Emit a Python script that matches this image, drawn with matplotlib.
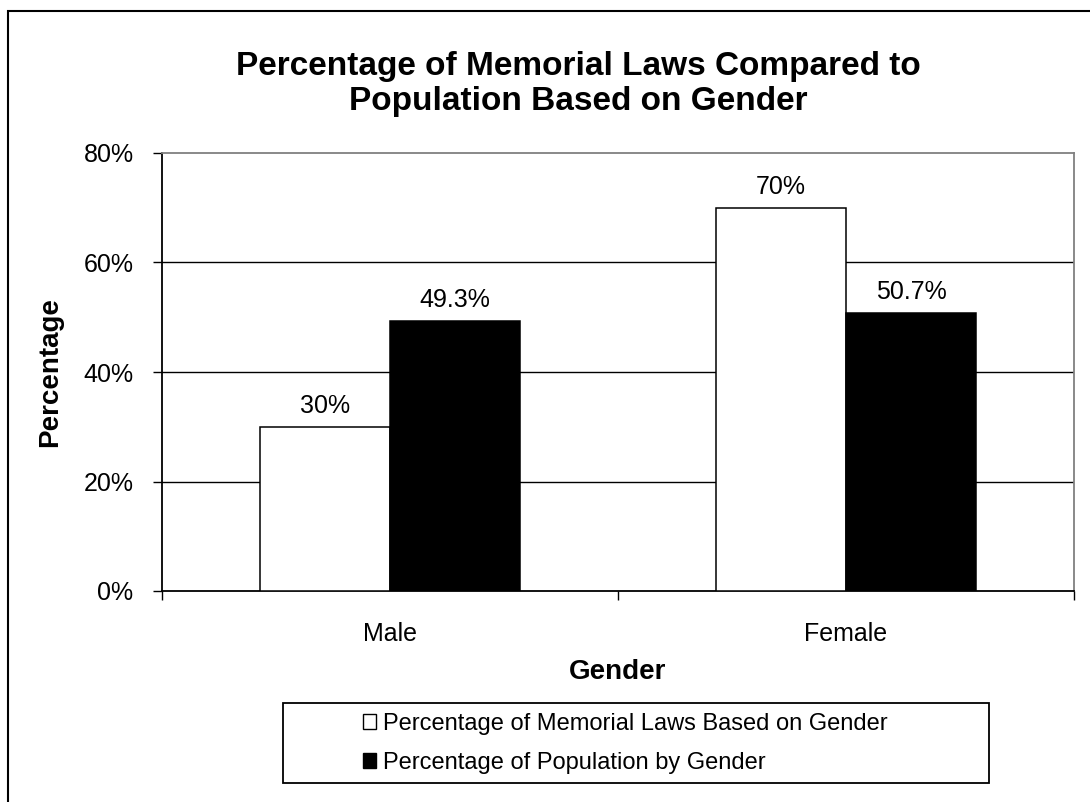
import matplotlib
matplotlib.use("Agg")
import matplotlib.pyplot as plt
from matplotlib.patches import Rectangle, Patch
from matplotlib.ticker import FuncFormatter
import numpy as np

plt.rcParams['font.family'] = ['Liberation Sans', 'DejaVu Sans']

genders = ['Male', 'Female']
laws_pct = [30, 70]
population_pct = [49.3, 50.7]
law_labels = ['30%', '70%']
pop_labels = ['49.3%', '50.7%']
yticks = [0, 20, 40, 60, 80]

W, H = 1090, 802
fig = plt.figure(figsize=(W / 100, H / 100), dpi=100)
ax = fig.add_axes([162 / W, 1 - 591 / H, 912 / W, 438 / H])

x = np.arange(len(genders))
bw = 0.285
b1 = ax.bar(x - bw / 2, laws_pct, bw, color='white', edgecolor='black', linewidth=1.1, zorder=3)
b2 = ax.bar(x + bw / 2, population_pct, bw, color='black', edgecolor='black', linewidth=1.1, zorder=3)
ax.bar_label(b1, labels=law_labels, padding=6.5, fontsize=18)
ax.bar_label(b2, labels=pop_labels, padding=6.5, fontsize=18)

ax.set_xlim(-0.5, 1.5)
ax.set_ylim(0, 80)
ax.set_yticks(yticks)
ax.yaxis.set_major_formatter(FuncFormatter(lambda v, p: f'{v:.0f}%'))
for v in yticks[1:-1]:
    ax.axhline(v, color='black', lw=1.0, zorder=1)

# category labels at centers, tick marks at category boundaries
ax.set_xticks(x)
ax.set_xticklabels(genders)
ax.set_xticks([-0.5, 0.5, 1.5], minor=True)
ax.tick_params(axis='x', which='major', length=0, pad=22, labelsize=18)
ax.tick_params(axis='x', which='minor', length=6.5, width=1.0, direction='out')
ax.tick_params(axis='y', length=6.5, width=1.0, direction='out', pad=14, labelsize=18)

for s in ['left', 'bottom']:
    ax.spines[s].set_color('black')
    ax.spines[s].set_linewidth(1.3)
for s in ['top', 'right']:
    ax.spines[s].set_color('#808080')
    ax.spines[s].set_linewidth(1.3)

ax.set_ylabel('Percentage', fontsize=20, fontweight='bold', va='center')
ax.yaxis.set_label_coords(-0.123, 0.5)
ax.set_xlabel('Gender', fontsize=20, fontweight='bold', va='center')
ax.xaxis.set_label_coords(0.5, -(672 - 591) / 438)

fig.text(578 / W, 1 - 84 / H,
         'Percentage of Memorial Laws Compared to\nPopulation Based on Gender',
         ha='center', va='center', fontsize=24, fontweight='bold', linespacing=1.2)

# legend with a separate rectangular frame
handles = [Patch(facecolor='white', edgecolor='black', linewidth=1.0),
           Patch(facecolor='black', edgecolor='black', linewidth=1.0)]
fig.legend(handles, ['Percentage of Memorial Laws Based on Gender',
                     'Percentage of Population by Gender'],
           loc='upper left', bbox_to_anchor=(363 / W, 1 - 713 / H),
           frameon=False, fontsize=17, handlelength=0.55, handleheight=0.6,
           handletextpad=0.3, labelspacing=0.72, borderpad=0, borderaxespad=0)
fig.add_artist(Rectangle((283 / W, 1 - 783 / H), 706 / W, 80 / H,
                         transform=fig.transFigure, fill=False,
                         edgecolor='black', linewidth=1.3))

# outer frame, only left and top edges fall inside the image
fig.add_artist(Rectangle((8 / W, -0.5), 2, 1.5 - 11 / H,
                         transform=fig.transFigure, fill=False,
                         edgecolor='black', linewidth=1.5))

fig.savefig('out.png', dpi=100)
